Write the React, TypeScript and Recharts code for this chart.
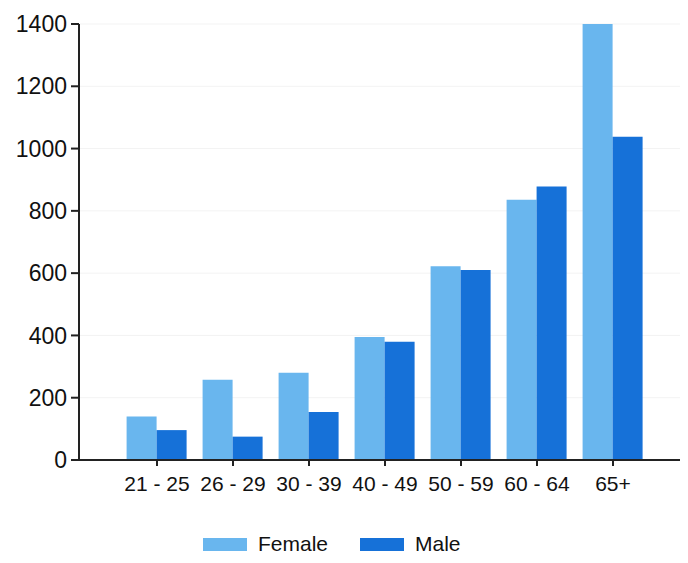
import React from 'react';
import { BarChart, Bar, XAxis, YAxis, CartesianGrid } from 'recharts';

const ageGroups = ['21 - 25', '26 - 29', '30 - 39', '40 - 49', '50 - 59', '60 - 64', '65+'];
const female = [140, 258, 280, 395, 622, 836, 1400];
const male = [96, 75, 154, 380, 610, 878, 1038];
const yTicks = [0, 200, 400, 600, 800, 1000, 1200, 1400];

const FEMALE_COLOR = '#69b6ee';
const MALE_COLOR = '#1671d8';
const TEXT = '#111';
const FONT = '"Liberation Sans", Arial, sans-serif';

const data = ageGroups.map((age, i) => ({ age, Female: female[i], Male: male[i] }));

const legendItems = [
  { name: 'Female', color: FEMALE_COLOR, left: 203 },
  { name: 'Male', color: MALE_COLOR, left: 360 },
];

export default function App() {
  return (
    <div style={{ position: 'relative', margin: -8, width: 688, height: 563, background: '#fff', overflow: 'hidden' }}>
      <BarChart
        width={688}
        height={563}
        data={data}
        margin={{ top: 24, right: 0, bottom: 24, left: 0 }}
        barCategoryGap="10%"
        barGap={0}
      >
        <CartesianGrid vertical={false} stroke="#f3f3f3" />
        <XAxis
          dataKey="age"
          height={79}
          padding={{ left: 40, right: 37 }}
          stroke="#222"
          strokeWidth={2}
          tickSize={6}
          tickMargin={10}
          interval={0}
          tick={{ fill: TEXT, fontSize: 21, fontFamily: FONT }}
        />
        <YAxis
          width={79}
          domain={[0, 1400]}
          ticks={yTicks}
          interval={0}
          stroke="#222"
          strokeWidth={2}
          tickSize={8}
          tickMargin={4}
          tick={{ fill: TEXT, fontSize: 23, fontFamily: FONT }}
        />
        <Bar dataKey="Female" fill={FEMALE_COLOR} isAnimationActive={false} />
        <Bar dataKey="Male" fill={MALE_COLOR} isAnimationActive={false} />
      </BarChart>
      {/* legend below the axis */}
      {legendItems.map((item) => (
        <div
          key={item.name}
          style={{
            position: 'absolute',
            left: item.left,
            top: 532,
            height: 24,
            display: 'flex',
            alignItems: 'center',
            fontFamily: FONT,
            fontSize: 21,
            color: TEXT,
            lineHeight: '24px',
          }}
        >
          <span style={{ display: 'inline-block', width: 44, height: 13, background: item.color, marginRight: 11 }} />
          {item.name}
        </div>
      ))}
    </div>
  );
}
